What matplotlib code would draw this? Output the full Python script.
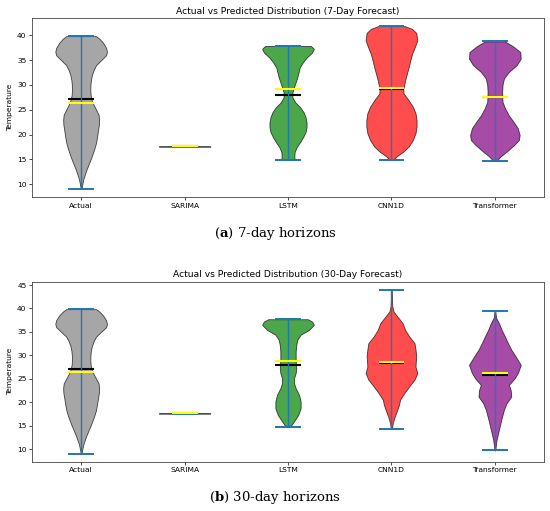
import numpy as np
import matplotlib
matplotlib.use('Agg')
import matplotlib.pyplot as plt

plt.rcParams['mathtext.fontset'] = 'custom'
plt.rcParams['mathtext.rm'] = 'DejaVu Serif'
plt.rcParams['mathtext.bf'] = 'DejaVu Serif:bold'

models = ['Actual', 'SARIMA', 'LSTM', 'CNN1D', 'Transformer']
colors = ['gray', 'blue', 'green', 'red', 'purple']

# density profiles: temperature levels and relative density
actual_temp = [9.05, 10, 11, 12, 13, 14, 15, 16, 17, 18, 19, 20, 21, 22, 23, 24, 25, 26, 27, 28,
               29, 30, 31, 32, 33, 34, 35, 36, 36.7, 37.5, 38.5, 39.3, 39.85]
actual_dens = [0.3, 1.2, 2.2, 3.8, 5.5, 7.5, 9.5, 11.3, 13.0, 14.5, 15.5, 16.3, 17.0, 17.8, 18.0, 17.5,
               15.0, 12.5, 10.5, 9.5, 9.2, 9.3, 9.8, 10.8, 12.5, 15.0, 20.0, 25.0, 25.9, 25.0, 22.0, 18.5, 15.0]
actual_mean, actual_median = 27.1, 26.4

sarima_temp = [17.57, 17.60, 17.63]
sarima_dens = [0.3, 1.0, 0.3]
sarima_mean, sarima_median = 17.6, 17.6

# 7-day forecast
lstm7_temp = [14.9, 15.5, 16.5, 17.5, 18.5, 19.5, 20.5, 21.5, 22.5, 23.5, 24.5, 25.5, 26.5, 27.5,
              28.5, 29.5, 30.5, 31.5, 32.5, 33.5, 34.5, 35.5, 36.5, 37.3, 37.86]
lstm7_dens = [7.0, 6.5, 6.8, 9.0, 12.5, 15.5, 18.0, 19.0, 19.0, 18.0, 16.0, 12.5, 7.5, 4.5,
              4.5, 6.0, 7.8, 9.5, 10.8, 12.0, 15.0, 19.0, 24.5, 26.5, 23.5]
lstm7_mean, lstm7_median = 27.95, 29.1

cnn7_temp = [14.9, 15.6, 16.6, 17.6, 18.9, 20.3, 21.6, 22.9, 24.3, 25.6, 26.9, 28.3, 29.2, 30.0,
             31.0, 32.3, 33.6, 35.0, 36.3, 37.7, 39.0, 40.5, 41.3, 41.87]
cnn7_dens = [2.0, 5.0, 11.7, 16.7, 20.7, 23.3, 24.3, 24.3, 23.3, 20.7, 16.7, 11.7, 11.5, 12.3,
             13.3, 15.0, 16.7, 18.3, 20.0, 22.7, 25.0, 24.0, 20.0, 13.0]
cnn7_mean, cnn7_median = 29.1, 29.4

trans7_temp = [14.7, 15.6, 16.6, 17.9, 18.9, 19.9, 21.3, 22.6, 23.9, 25.3, 26.6, 27.6, 28.6, 30.0,
               31.3, 32.6, 34.0, 35.3, 36.65, 37.9, 38.8]
trans7_dens = [1.5, 5.3, 11.0, 17.7, 22.0, 22.7, 21.0, 17.0, 12.7, 9.3, 7.0, 6.8, 6.7, 7.0,
               8.3, 12.7, 20.0, 23.7, 23.3, 16.0, 9.0]
trans7_mean, trans7_median = 27.6, 27.65

# 30-day forecast
lstm30_temp = [14.69, 15.9, 17.3, 18.7, 20.2, 21.6, 23.0, 24.1, 25.1, 26.2, 27.3, 28.0, 29.4, 30.8,
               32.2, 33.3, 34.4, 35.4, 36.5, 37.2, 37.7]
lstm30_dens = [2.0, 6.0, 10.3, 12.7, 12.7, 11.0, 7.7, 6.0, 6.0, 7.7, 8.3, 8.0, 7.7, 7.7,
               8.3, 9.3, 12.7, 21.0, 26.0, 24.3, 20.0]
lstm30_mean, lstm30_median = 28.0, 28.7

cnn30_temp = [14.26, 15.55, 17.0, 18.4, 19.45, 20.5, 21.9, 23.4, 24.8, 26.2, 27.6, 28.5, 29.75, 31.2,
              32.6, 34.0, 35.4, 36.9, 38.3, 39.35, 40.5, 42.0, 43.97]
cnn30_dens = [0.5, 1.3, 3.3, 5.7, 7.3, 8.3, 12.3, 17.3, 22.3, 25.0, 23.3, 23.5, 24.0, 23.3,
              22.3, 17.3, 13.3, 10.7, 5.7, 2.0, 0.8, 0.5, 0.3]
cnn30_mean, cnn30_median = 28.4, 28.5

trans30_temp = [9.7, 11.98, 14.1, 16.2, 18.4, 19.8, 21.2, 22.6, 23.7, 25.1, 26.3, 27.97, 29.75, 31.2,
                32.6, 34.0, 35.43, 36.86, 38.0, 39.48]
trans30_dens = [0.3, 1.7, 4.0, 6.3, 9.0, 11.7, 16.3, 15.7, 14.0, 19.7, 23.0, 25.7, 20.7, 16.3,
                13.0, 10.0, 6.7, 4.0, 1.2, 0.3]
trans30_mean, trans30_median = 25.85, 26.3


def make_stats(temp, dens, mean, median):
    temp = np.array(temp)
    return {'coords': temp, 'vals': np.array(dens), 'mean': mean, 'median': median,
            'min': temp.min(), 'max': temp.max()}


def draw_panel(ax, stats, title):
    parts = ax.violin(stats, positions=range(1, len(models) + 1), widths=0.5,
                      showmeans=True, showmedians=True, showextrema=True)
    for body, c in zip(parts['bodies'], colors):
        body.set_facecolor(c)
        body.set_edgecolor('black')
        body.set_linewidth(0.6)
        body.set_alpha(0.7)
    for key in ['cbars', 'cmins', 'cmaxes']:
        parts[key].set_color('#1f77b4')
        parts[key].set_linewidth(1.0)
    parts['cmins'].set_linewidth(1.4)
    parts['cmaxes'].set_linewidth(1.4)
    parts['cmeans'].set_color('black')
    parts['cmeans'].set_linewidth(1.5)
    parts['cmedians'].set_color('yellow')
    parts['cmedians'].set_linewidth(1.5)
    ax.set_xticks(range(1, len(models) + 1), models)
    ax.set_title(title, fontsize=6.6, pad=3)
    ax.set_ylabel('Temperature', fontsize=5.4, labelpad=3)
    ax.tick_params(labelsize=5.4, length=2, width=0.5, pad=2)
    for s in ax.spines.values():
        s.set_linewidth(0.6)
        s.set_color('#444444')


fig = plt.figure(figsize=(5.5, 5.11), dpi=100)
ax_a = fig.add_axes([0.0582, 0.6145, 0.9309, 0.3503])
ax_b = fig.add_axes([0.0582, 0.0965, 0.9309, 0.3523])

stats7 = [make_stats(actual_temp, actual_dens, actual_mean, actual_median),
          make_stats(sarima_temp, sarima_dens, sarima_mean, sarima_median),
          make_stats(lstm7_temp, lstm7_dens, lstm7_mean, lstm7_median),
          make_stats(cnn7_temp, cnn7_dens, cnn7_mean, cnn7_median),
          make_stats(trans7_temp, trans7_dens, trans7_mean, trans7_median)]
stats30 = [make_stats(actual_temp, actual_dens, actual_mean, actual_median),
           make_stats(sarima_temp, sarima_dens, sarima_mean, sarima_median),
           make_stats(lstm30_temp, lstm30_dens, lstm30_mean, lstm30_median),
           make_stats(cnn30_temp, cnn30_dens, cnn30_mean, cnn30_median),
           make_stats(trans30_temp, trans30_dens, trans30_mean, trans30_median)]

draw_panel(ax_a, stats7, 'Actual vs Predicted Distribution (7-Day Forecast)')
draw_panel(ax_b, stats30, 'Actual vs Predicted Distribution (30-Day Forecast)')

fig.text(0.5, 1 - 233 / 511, r'($\mathbf{a}$) 7-day horizons', ha='center', va='center',
         fontsize=9.5, family='DejaVu Serif')
fig.text(0.5, 1 - 497 / 511, r'($\mathbf{b}$) 30-day horizons', ha='center', va='center',
         fontsize=9.5, family='DejaVu Serif')

fig.savefig('out.png', dpi=100)
